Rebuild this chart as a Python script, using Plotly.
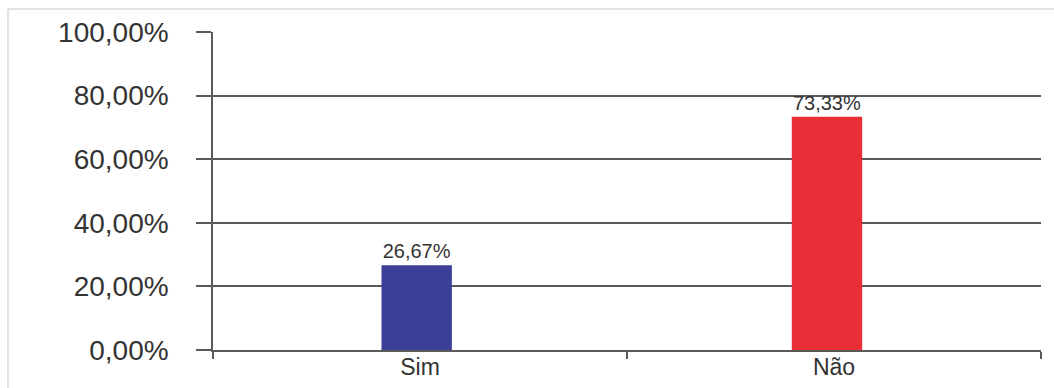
import plotly.graph_objects as go

# Survey answers and their shares (percent)
categories = ["Sim", "Não"]
values = [26.67, 73.33]
bar_colors = ["#3B3F95", "#EA2E37"]
bar_labels = ["26,67%", "73,33%"]

# Y axis ticks
y_tickvals = [0, 20, 40, 60, 80, 100]
y_ticktext = ["0,00%", "20,00%", "40,00%", "60,00%", "80,00%", "100,00%"]

FONT = "Liberation Sans, Arial, sans-serif"
LINE = "#5a5a5a"

fig = go.Figure(
    go.Bar(
        x=categories,
        y=values,
        marker=dict(color=bar_colors, line=dict(width=0)),
        width=0.17,
        offset=[-0.093, -0.102],
        text=bar_labels,
        textposition="outside",
        textfont=dict(family=FONT, size=20, color="#333333"),
        cliponaxis=False,
    )
)

fig.update_layout(
    width=1054,
    height=388,
    margin=dict(l=213, r=13, t=32, b=38),
    paper_bgcolor="white",
    plot_bgcolor="white",
    showlegend=False,
    font=dict(family=FONT, color="#333333"),
    uniformtext=dict(mode="show", minsize=20),
    shapes=[
        dict(
            type="rect", xref="paper", yref="paper",
            x0=-0.2476, x1=1.2, y0=-0.3, y1=1.0723,
            line=dict(color="#c8c8c8", width=1), fillcolor="rgba(0,0,0,0)",
            layer="below",
        )
    ],
)

fig.update_xaxes(
    type="category",
    automargin=False,
    showline=True, linecolor=LINE, linewidth=1.5,
    ticks="outside", tickson="boundaries", ticklen=7, tickwidth=1.5, tickcolor=LINE,
    ticklabelstandoff=-4,
    showgrid=False,
    tickfont=dict(family=FONT, size=23, color="#333333"),
)

fig.update_yaxes(
    range=[0, 100],
    automargin=False,
    tickvals=y_tickvals, ticktext=y_ticktext,
    showline=True, linecolor=LINE, linewidth=1.5,
    ticks="outside", ticklen=15, tickwidth=1.5, tickcolor=LINE,
    ticklabelstandoff=22,
    showgrid=True, gridcolor=LINE, gridwidth=1.5,
    zeroline=False,
    tickfont=dict(family=FONT, size=28, color="#333333"),
)

fig.write_html("out.html")
